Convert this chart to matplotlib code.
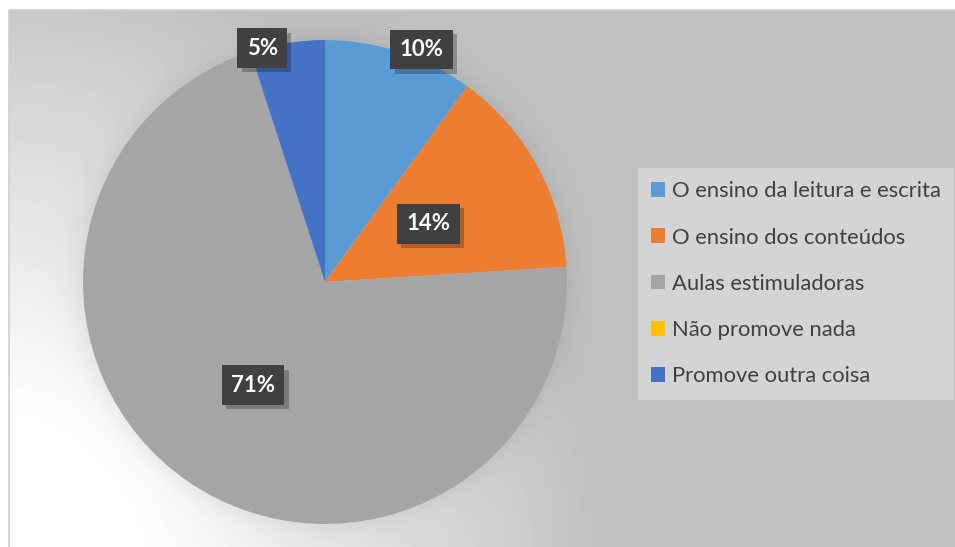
import numpy as np
import matplotlib.pyplot as plt
from matplotlib import patheffects
from matplotlib.patches import Patch, Rectangle

categories = [
    "O ensino da leitura e escrita",
    "O ensino dos conteúdos",
    "Aulas estimuladoras",
    "Não promove nada",
    "Promove outra coisa",
]
shares = [10, 14, 71, 0, 5]
colors = ["#5B9BD5", "#ED7D31", "#A5A5A5", "#FFC000", "#4472C4"]

W, H = 955, 547
plt.rcParams["font.family"] = ["Lato", "DejaVu Sans"]
fig = plt.figure(figsize=(W / 100, H / 100), dpi=100)
fig.patch.set_facecolor("white")

# pie placement in pixels (centre and radius)
cx, cy, R = 325, 282, 242

# chart area fill: flat grey that lightens toward the lower-left corner,
# plus a faint shadow ring just outside the pie
bg = fig.add_axes([0, 0, 1, 1])
yy, xx = np.mgrid[0:H, 0:W] + 0.5
d = np.hypot(xx, yy - 560)
glow = np.clip(1 - (d - 140) / 460, 0, 1) ** 0.9
rr = np.hypot(xx - cx, yy - cy) - R
ring = np.where(rr > 0, 0.06 * np.exp(-rr / 14), 0)
img = (192 + 63 * glow) * (1 - ring) / 255
img[:10, :] = 1
img[:, :9] = 1
bg.imshow(img, cmap="gray", vmin=0, vmax=1, extent=(0, W, H, 0),
          interpolation="bilinear")
bg.add_patch(Rectangle((9, 10), W, H, fill=False, edgecolor="#d0d0d0", lw=1.2))
bg.set_xlim(0, W)
bg.set_ylim(H, 0)
bg.axis("off")

ax = fig.add_axes([(cx - R) / W, (H - cy - R) / H, 2 * R / W, 2 * R / H])
ax.pie(shares, colors=colors, startangle=90, counterclock=False, radius=1,
       wedgeprops=dict(linewidth=0))
ax.set_xlim(-1, 1)
ax.set_ylim(-1, 1)
ax.set_aspect("equal")
ax.axis("off")

# data labels: dark boxes with a small drop shadow
label_r = [1.04, 0.49, 0.52, 0.0, 1.0]
label_turn = [4.6, -0.6, 0.7, 0.0, -6.0]
total = sum(shares)
start = np.cumsum([0] + shares[:-1])
box_shadow = [patheffects.SimplePatchShadow(offset=(3, -3), shadow_rgbFace="black",
                                            alpha=0.25),
              patheffects.Normal()]
for v, s0, r, turn in zip(shares, start, label_r, label_turn):
    if v == 0:
        continue
    theta = np.deg2rad(90 - 360 * (s0 + v / 2) / total - turn)
    x, y = r * np.cos(theta), r * np.sin(theta)
    t = ax.text(x, y, f"{v / total:.0%}", ha="center", va="center",
                fontsize=16, fontweight="bold", color="white",
                bbox=dict(boxstyle="square,pad=0.42", facecolor="#404040",
                          edgecolor="none"))
    t.get_bbox_patch().set_path_effects(box_shadow)

handles = [Patch(facecolor=c, edgecolor="none", label=lab)
           for c, lab in zip(colors, categories)]
leg = fig.legend(handles=handles, loc="upper left",
                 bbox_to_anchor=(638 / W, 1 - 168 / H), frameon=True,
                 fontsize=15.8, labelspacing=1.2, handlelength=0.65,
                 handleheight=0.65, handletextpad=0.3, borderpad=0.6,
                 borderaxespad=0, fancybox=False)
leg.get_frame().set_facecolor("#d4d4d4")
leg.get_frame().set_edgecolor("none")
leg.get_frame().set_alpha(1)
for t in leg.get_texts():
    t.set_color("#404040")

fig.savefig("out.png", dpi=100)
